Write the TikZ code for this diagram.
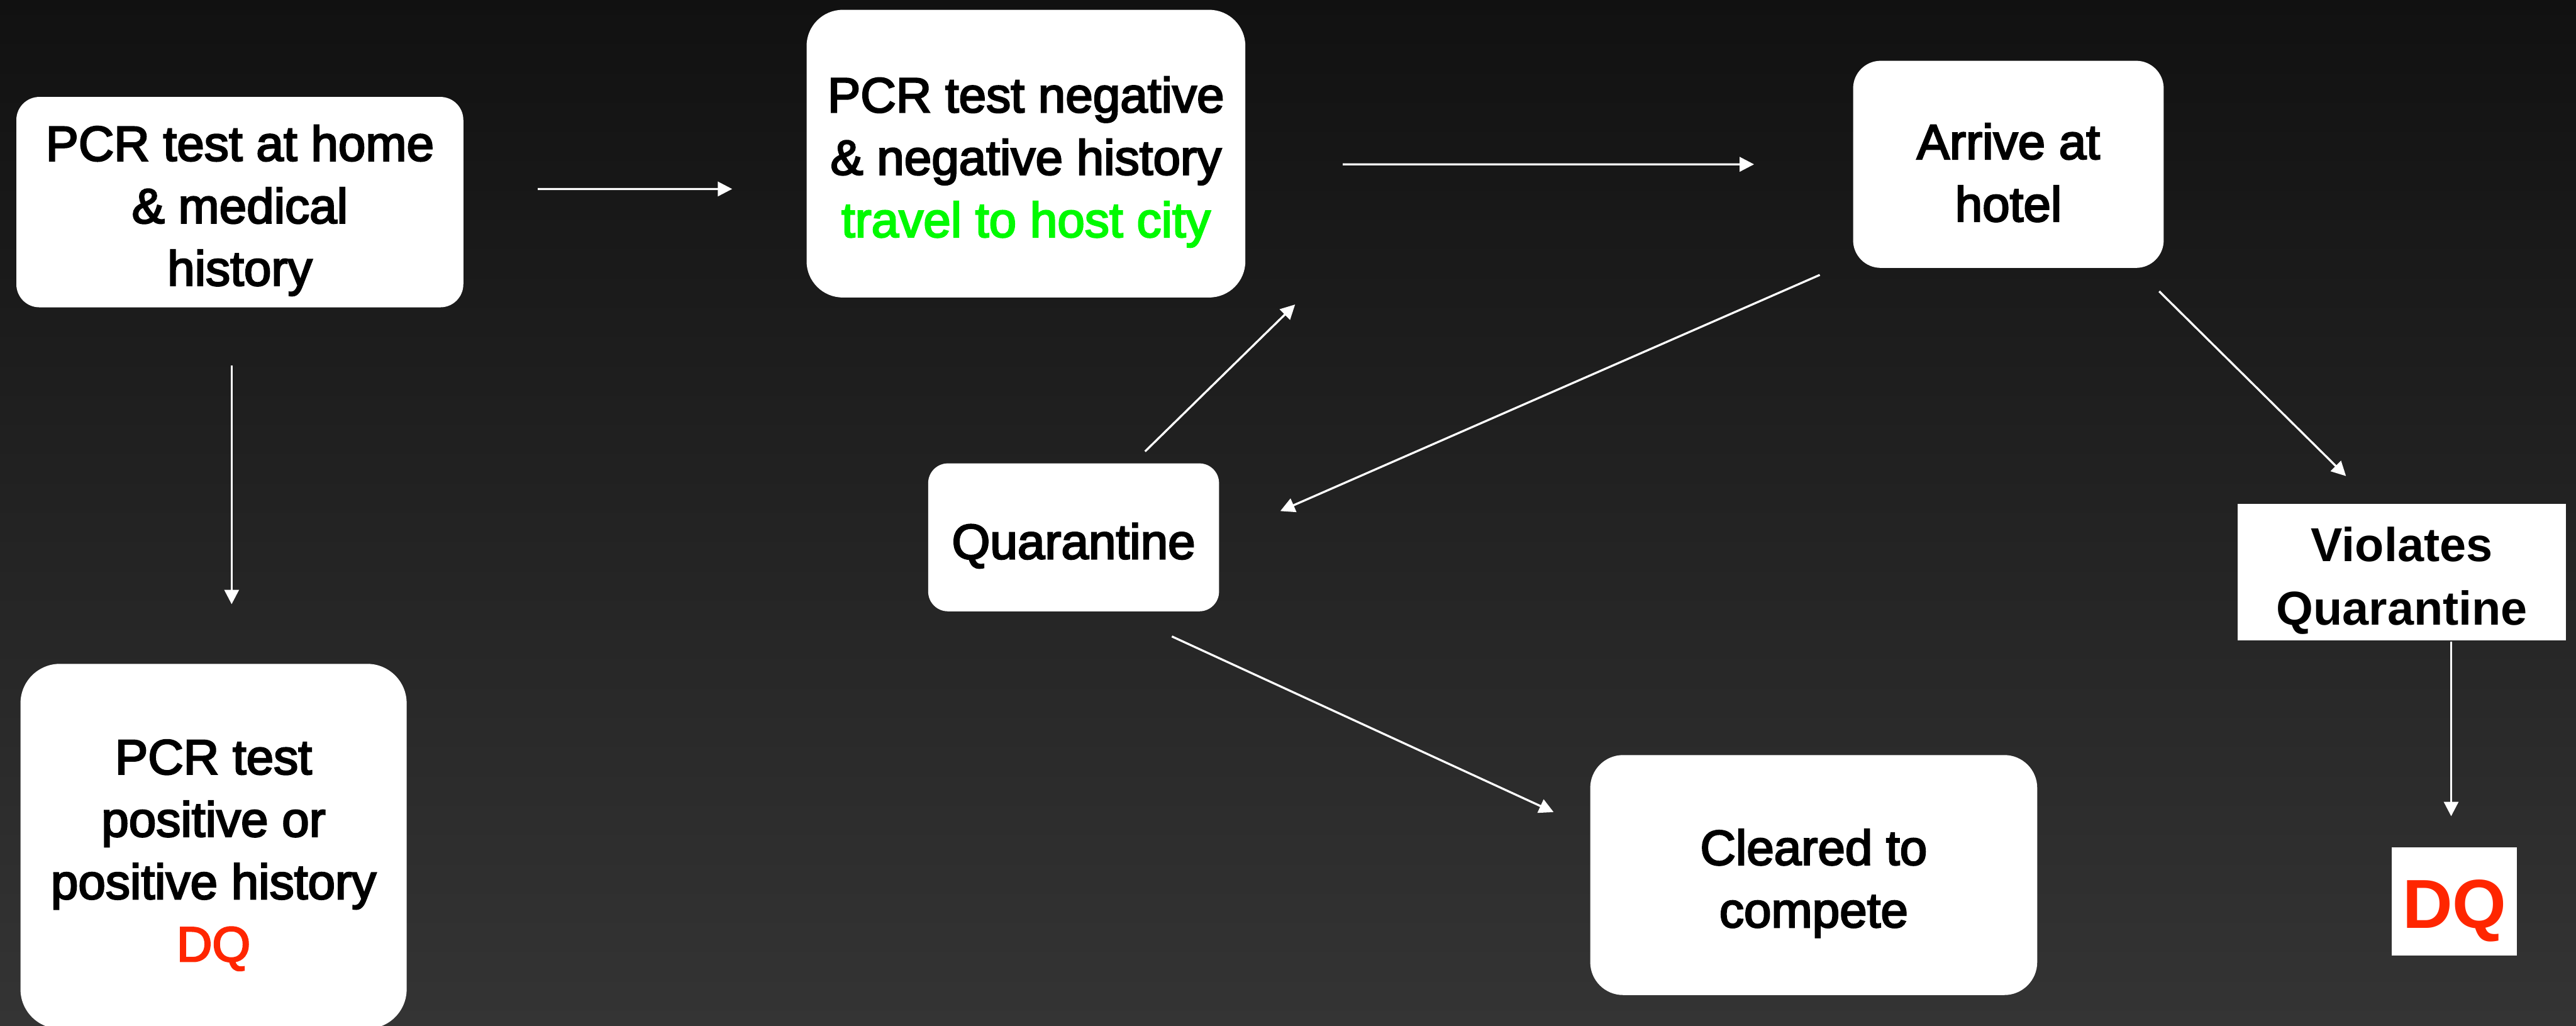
\documentclass[tikz,border=0pt]{standalone}
\usepackage{fontspec}
\setmainfont{Liberation Sans}
\newfontfamily\boxfont{Liberation Sans}[FakeBold=3.2]
\usetikzlibrary{arrows.meta,calc}
\definecolor{bgtop}{RGB}{17,17,17}
\definecolor{bgbottom}{RGB}{52,52,52}
\definecolor{okgreen}{RGB}{0,250,0}
\definecolor{dqred}{RGB}{255,38,0}
\newcommand{\topgap}{\rule{0pt}{22.6pt}}
\tikzset{
  box/.style={fill=white, text=black, align=center, inner sep=0pt,
    font=\boxfont\fontsize{21.3}{27}\selectfont},
  sqbox/.style={fill=white, text=black, align=center, inner sep=0pt,
    font=\bfseries\fontsize{20.6}{27.5}\selectfont},
  arr/.style={-{Triangle[length=2.2mm,width=2.2mm]}, draw=white, line width=0.9pt}
}

\begin{document}
\begin{tikzpicture}[x=0.025cm, y=-0.025cm]

  \useasboundingbox (0,0) rectangle (1568,624);
  \fill[top color=bgtop, bottom color=bgbottom] (0,0) rectangle (1568,624);

  \node[box, rounded corners=0.35cm, minimum width=6.8cm, minimum height=3.2cm] (home) at (146,123)
    {\topgap PCR test at home\\ \& medical\\ history};
  \node[box, rounded corners=0.55cm, minimum width=6.675cm, minimum height=4.375cm] (neg) at (624.5,93.5)
    {\topgap PCR test negative\\ \& negative history\\ \textcolor{okgreen}{travel to host city}};
  \node[box, rounded corners=0.42cm, minimum width=4.725cm, minimum height=3.15cm] (hotel) at (1222.5,100)
    {\topgap Arrive at\\ hotel};
  \node[box, rounded corners=0.3cm, minimum width=4.425cm, minimum height=2.25cm] (quar) at (653.5,327)
    {\topgap Quarantine};
  \node[box, rounded corners=0.6cm, minimum width=5.875cm, minimum height=5.55cm] (pos) at (130,515)
    {\topgap PCR test\\ positive or\\ positive history\\ \textcolor{dqred}{DQ}};
  \node[box, rounded corners=0.5cm, minimum width=6.8cm, minimum height=3.65cm] (clear) at (1104,532.5)
    {\topgap Cleared to\\ compete};
  \node[sqbox, minimum width=5cm, minimum height=2.075cm] (viol) at (1462,348)
    {\topgap Violates\\ Quarantine};
  \node[sqbox, minimum width=1.9cm, minimum height=1.65cm, text=dqred,
    font=\bfseries\fontsize{30}{32}\selectfont] (dq) at (1494,548.5) {\rule{0pt}{29pt}DQ};

  \draw[arr] ($(home.east)+(45,-8)$) -- ($(neg.west)+(-45,21.5)$);
  \draw[arr] ($(neg.east)+(59,6.5)$) -- ($(hotel.west)+(-60,0)$);
  \draw[arr] ($(home.south)+(-5,35)$) -- ($(pos.north)+(11,-36)$);
  \draw[arr] ($(quar.north)+(43.5,-7)$) -- ($(neg.south east)+(30,4)$);
  \draw[arr] ($(hotel.south west)+(-20,4)$) -- ($(quar.east)+(37,-16)$);
  \draw[arr] ($(quar.south east)+(-29,15)$) -- ($(clear.north west)+(-22,35)$);
  \draw[arr] ($(hotel.south east)+(-3,14)$) -- ($(viol.north)+(-34,-16.5)$);
  \draw[arr] ($(viol.south)+(30,0.5)$) -- ($(dq.north)+(-2,-18.5)$);

\end{tikzpicture}
\end{document}
